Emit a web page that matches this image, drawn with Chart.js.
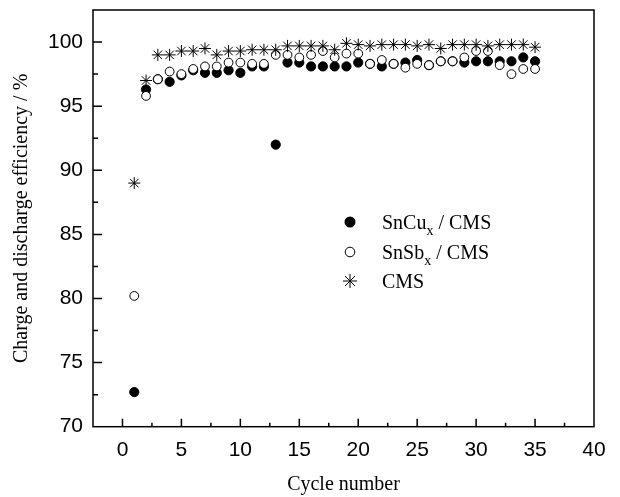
<!DOCTYPE html>
<html>
<head>
<meta charset="utf-8">
<script src="https://cdn.jsdelivr.net/npm/chart.js@4/dist/chart.umd.min.js"></script>
<style>
  html, body { margin: 0; padding: 0; background: #fff; }
  #wrap { width: 620px; height: 497px; }
</style>
</head>
<body>
<div id="wrap"><canvas id="chart" width="620" height="497"></canvas></div>
<script>
// --- datos ---
const cycles = [1, 2, 3, 4, 5, 6, 7, 8, 9, 10, 11, 12, 13, 14, 15, 16, 17, 18, 19, 20,
                21, 22, 23, 24, 25, 26, 27, 28, 29, 30, 31, 32, 33, 34, 35];

const snCu = [72.7, 96.3, 97.1, 96.9, 97.4, 97.8, 97.6, 97.6, 97.8, 97.6, 98.1, 98.1, 92.0, 98.4, 98.4,
              98.1, 98.1, 98.1, 98.1, 98.4, 98.3, 98.1, 98.3, 98.4, 98.6, 98.2, 98.5, 98.5, 98.4, 98.5,
              98.5, 98.5, 98.5, 98.8, 98.5];

const snSb = [80.2, 95.8, 97.1, 97.7, 97.5, 97.9, 98.1, 98.1, 98.4, 98.4, 98.3, 98.3, 99.0, 99.0, 98.8,
              99.0, 99.3, 98.8, 99.1, 99.1, 98.3, 98.6, 98.3, 98.0, 98.3, 98.2, 98.5, 98.5, 98.8, 99.3,
              99.3, 98.2, 97.5, 97.9, 97.9];

const cms = [89.0, 97.0, 99.0, 99.0, 99.3, 99.3, 99.5, 99.0, 99.3, 99.3, 99.4, 99.4, 99.4, 99.7, 99.7,
             99.7, 99.7, 99.4, 99.9, 99.8, 99.7, 99.8, 99.8, 99.8, 99.7, 99.8, 99.5, 99.8, 99.8, 99.8,
             99.7, 99.8, 99.8, 99.8, 99.6];

const xTicks = [0, 5, 10, 15, 20, 25, 30, 35, 40];
const yTicks = [70, 75, 80, 85, 90, 95, 100];

const legendItems = [
  { main: 'SnCu', sub: 'x', rest: ' / CMS', style: 'filled' },
  { main: 'SnSb', sub: 'x', rest: ' / CMS', style: 'open' },
  { main: 'CMS', sub: '', rest: '', style: 'star' }
];

const serif = '"Liberation Serif", "Times New Roman", serif';
const sans = '"Liberation Sans", Arial, sans-serif';

function toXY(ys) {
  return cycles.map((c, i) => ({ x: c, y: ys[i] }));
}

// --- marco, marcas interiores y leyenda ---
const framePlugin = {
  id: 'frame',
  afterDraw(chart) {
    const ctx = chart.ctx;
    const a = chart.chartArea;
    const xs = chart.scales.x;
    const ys = chart.scales.y;
    ctx.save();
    ctx.strokeStyle = '#000';
    ctx.lineWidth = 1.5;
    ctx.strokeRect(a.left, a.top, a.right - a.left, a.bottom - a.top);

    ctx.beginPath();
    xTicks.forEach(v => {
      const px = xs.getPixelForValue(v);
      if (px < a.right - 1) {
        ctx.moveTo(px, a.bottom);
        ctx.lineTo(px, a.bottom - 8);
      }
      const pm = xs.getPixelForValue(v + 2.5);
      if (pm < a.right - 1) {
        ctx.moveTo(pm, a.bottom);
        ctx.lineTo(pm, a.bottom - 4);
      }
    });
    yTicks.forEach(v => {
      const py = ys.getPixelForValue(v);
      if (py > a.top + 1 && py < a.bottom - 1) {
        ctx.moveTo(a.left, py);
        ctx.lineTo(a.left + 9, py);
      }
      const pm = ys.getPixelForValue(v + 2.5);
      if (pm > a.top + 1) {
        ctx.moveTo(a.left, pm);
        ctx.lineTo(a.left + 5, pm);
      }
    });
    ctx.stroke();

    // leyenda
    const lx = 350, ly = [222, 252, 281];
    legendItems.forEach((item, i) => {
      const y = ly[i];
      ctx.fillStyle = '#000';
      ctx.strokeStyle = '#000';
      if (item.style === 'filled') {
        ctx.beginPath();
        ctx.arc(lx, y, 5.5, 0, Math.PI * 2);
        ctx.fill();
      } else if (item.style === 'open') {
        ctx.lineWidth = 1;
        ctx.beginPath();
        ctx.arc(lx, y, 4.8, 0, Math.PI * 2);
        ctx.stroke();
      } else {
        ctx.lineWidth = 1;
        const r = 7;
        ctx.beginPath();
        for (let k = 0; k < 4; k++) {
          const ang = k * Math.PI / 4;
          ctx.moveTo(lx - r * Math.cos(ang), y - r * Math.sin(ang));
          ctx.lineTo(lx + r * Math.cos(ang), y + r * Math.sin(ang));
        }
        ctx.stroke();
      }
      ctx.textBaseline = 'alphabetic';
      ctx.textAlign = 'left';
      ctx.font = '20px ' + serif;
      let tx = 382;
      const base = y + 7;
      ctx.fillText(item.main, tx, base);
      tx += ctx.measureText(item.main).width;
      if (item.sub) {
        ctx.font = '14px ' + serif;
        ctx.fillText(item.sub, tx, base + 6);
        tx += ctx.measureText(item.sub).width;
        ctx.font = '20px ' + serif;
      }
      ctx.fillText(item.rest, tx, base);
    });
    ctx.restore();
  }
};

const chart = new Chart(document.getElementById('chart'), {
  type: 'scatter',
  data: {
    datasets: [
      {
        label: 'SnCux / CMS',
        data: toXY(snCu),
        pointStyle: 'circle',
        pointRadius: 4.6,
        backgroundColor: '#000',
        borderColor: '#000',
        borderWidth: 1,
        order: 3
      },
      {
        label: 'SnSbx / CMS',
        data: toXY(snSb),
        pointStyle: 'circle',
        pointRadius: 4.4,
        backgroundColor: '#fff',
        borderColor: '#000',
        borderWidth: 1,
        order: 2
      },
      {
        label: 'CMS',
        data: toXY(cms),
        pointStyle: 'star',
        pointRadius: 6,
        backgroundColor: '#000',
        borderColor: '#000',
        borderWidth: 1,
        order: 1
      }
    ]
  },
  options: {
    responsive: false,
    animation: false,
    events: [],
    layout: { padding: { top: 10, right: 26, left: 0, bottom: 0 } },
    plugins: {
      legend: { display: false },
      tooltip: { enabled: false }
    },
    scales: {
      x: {
        type: 'linear',
        min: -2.5,
        max: 40,
        afterBuildTicks: s => { s.ticks = xTicks.map(v => ({ value: v })); },
        afterFit: s => { s.height = 70.3; s.paddingLeft = 0; s.paddingRight = 0; },
        grid: { display: false, drawTicks: false },
        border: { display: false },
        ticks: {
          color: '#000',
          padding: 11,
          maxRotation: 0,
          font: { family: sans, size: 21 }
        },
        title: {
          display: true,
          text: 'Cycle number',
          color: '#000',
          font: { family: serif, size: 20 },
          padding: { top: 16, bottom: 0 }
        }
      },
      y: {
        type: 'linear',
        min: 70,
        max: 102.5,
        afterBuildTicks: s => { s.ticks = yTicks.map(v => ({ value: v })); },
        afterFit: s => { s.width = 93; s.paddingTop = 0; s.paddingBottom = 0; },
        grid: { display: false, drawTicks: false },
        border: { display: false },
        ticks: {
          color: '#000',
          padding: 10,
          font: { family: sans, size: 21 }
        },
        title: {
          display: true,
          text: 'Charge and discharge efficiency / %',
          color: '#000',
          font: { family: serif, size: 20 },
          padding: { top: 10, bottom: 0 }
        }
      }
    }
  },
  plugins: [framePlugin]
});
</script>
</body>
</html>
